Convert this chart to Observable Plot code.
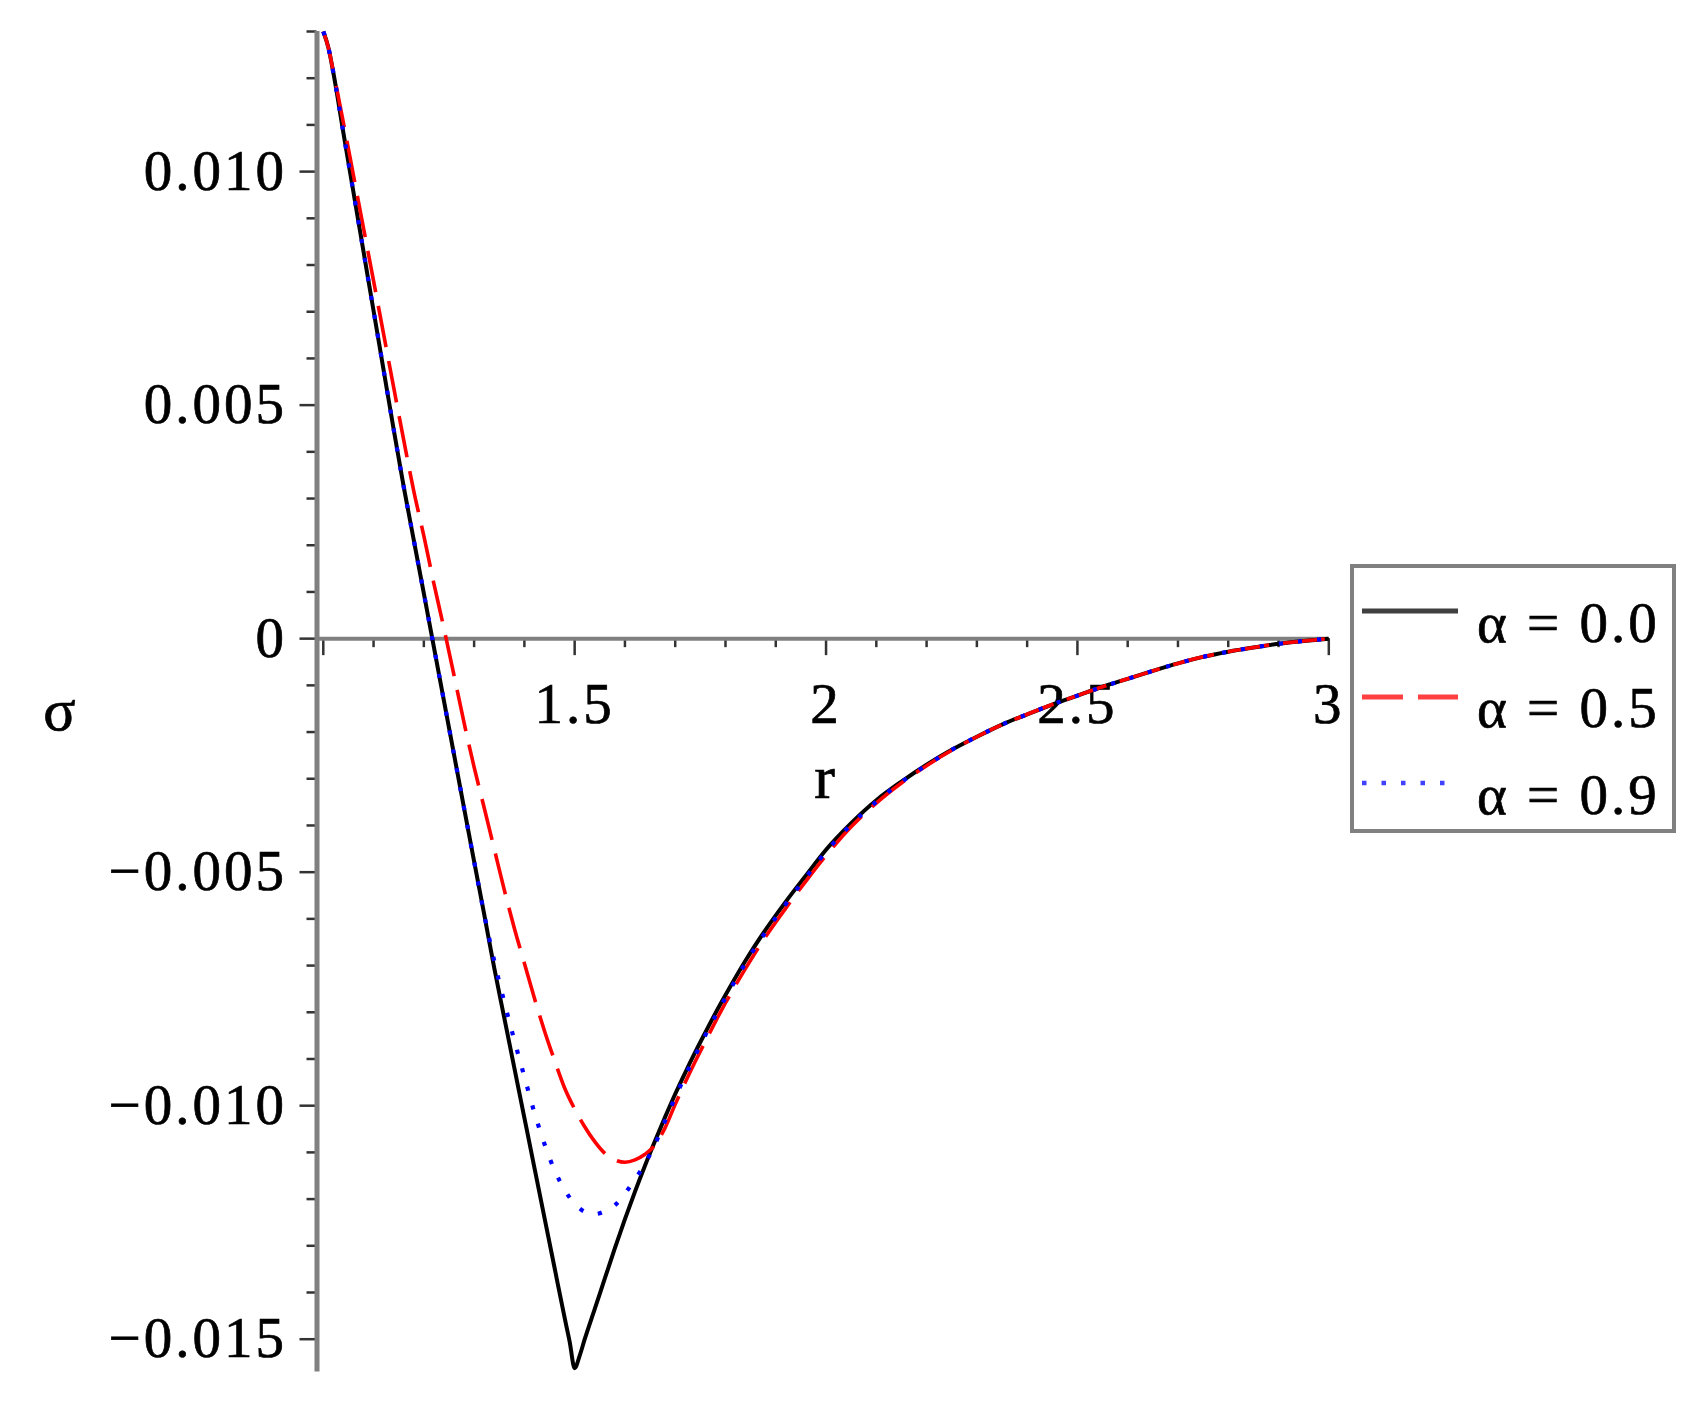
<!DOCTYPE html>
<html>
<head>
<meta charset="utf-8">
<script src="https://cdn.jsdelivr.net/npm/d3@7"></script>
<script src="https://cdn.jsdelivr.net/npm/@observablehq/plot@0.6"></script>
<style>
  html, body { margin: 0; padding: 0; background: #fff; }
  #wrap { position: relative; width: 1699px; height: 1419px; overflow: hidden; }
  #wrap svg text { letter-spacing: 3px; stroke: #000; stroke-width: 0.7px; }
  .legend { position: absolute; left: 1350px; top: 564px; width: 318px; height: 261px;
            border: 4px solid #808080; background: #fff; box-sizing: content-box;
            font-family: "Liberation Serif", serif; font-size: 57px; letter-spacing: 3px; color: #000;
            -webkit-text-stroke: 0.7px #000; }
  .legend .sample { position: absolute; left: 8px; width: 96px; height: 10px; }
  .legend .lab { position: absolute; left: 123px; line-height: 1; white-space: nowrap; transform: translateY(-50%); }
</style>
</head>
<body>
<div id="wrap"></div>
<script>
// ---- data ----
const alpha00 = [
  [1.00,0.01300],[1.01,0.01266],[1.02,0.01212],[1.04,0.01083],[1.06,0.00956],[1.08,0.00829],
  [1.10,0.00702],[1.12,0.00575],[1.14,0.00448],[1.16,0.00325],[1.18,0.00211],[1.20,0.00097],
  [1.22,-0.00018],[1.24,-0.00133],[1.26,-0.00248],[1.28,-0.00363],[1.30,-0.00477],[1.32,-0.00590],
  [1.34,-0.00705],[1.36,-0.00812],[1.38,-0.00919],[1.40,-0.01026],[1.42,-0.01133],[1.44,-0.01240],
  [1.46,-0.01347],[1.48,-0.01454],[1.49,-0.01505],[1.50,-0.01562],[1.51,-0.01535],[1.52,-0.01500],
  [1.54,-0.01435],[1.56,-0.01370],[1.58,-0.01305],[1.60,-0.01243],[1.62,-0.01184],[1.64,-0.01128],
  [1.66,-0.01075],[1.68,-0.01024],[1.70,-0.00975],[1.72,-0.00929],[1.74,-0.00885],[1.76,-0.00843],
  [1.78,-0.00802],[1.80,-0.00763],[1.84,-0.00689],[1.88,-0.00623],[1.92,-0.00563],[1.96,-0.00507],
  [2.00,-0.00452],[2.05,-0.00395],[2.10,-0.00346],[2.15,-0.00306],[2.20,-0.00270],[2.25,-0.00238],
  [2.30,-0.00210],[2.35,-0.00184],[2.40,-0.00162],[2.45,-0.00141],[2.50,-0.00122],[2.55,-0.00103],
  [2.60,-0.00086],[2.65,-0.00069],[2.70,-0.00053],[2.75,-0.00039],[2.80,-0.00028],[2.85,-0.00019],
  [2.90,-0.00011],[2.95,-0.00005],[3.00,0.00000]
];
const alpha05 = [
  [1.00,0.01300],[1.01,0.01266],[1.02,0.01214],[1.04,0.01105],[1.06,0.00992],[1.08,0.00879],
  [1.10,0.00766],[1.12,0.00652],[1.14,0.00538],[1.16,0.00425],[1.18,0.00316],[1.20,0.00220],
  [1.22,0.00118],[1.24,0.00022],[1.26,-0.00078],[1.28,-0.00180],[1.30,-0.00275],[1.32,-0.00362],
  [1.34,-0.00450],[1.36,-0.00538],[1.38,-0.00620],[1.40,-0.00695],[1.42,-0.00770],[1.44,-0.00840],
  [1.46,-0.00903],[1.48,-0.00962],[1.50,-0.01007],[1.52,-0.01045],[1.54,-0.01077],[1.56,-0.01102],
  [1.58,-0.01116],[1.60,-0.01121],[1.62,-0.01116],[1.64,-0.01104],[1.655,-0.01090],[1.68,-0.01047],
  [1.70,-0.00997],[1.72,-0.00950],[1.74,-0.00905],[1.76,-0.00862],[1.78,-0.00820],[1.80,-0.00780],
  [1.84,-0.00706],[1.88,-0.00638],[1.92,-0.00577],[1.96,-0.00519],[2.00,-0.00464],[2.05,-0.00403],
  [2.10,-0.00352],[2.15,-0.00309],[2.20,-0.00272],[2.25,-0.00239],[2.30,-0.00210],[2.35,-0.00184],
  [2.40,-0.00162],[2.45,-0.00141],[2.50,-0.00122],[2.55,-0.00103],[2.60,-0.00086],[2.65,-0.00069],
  [2.70,-0.00053],[2.75,-0.00039],[2.80,-0.00028],[2.85,-0.00019],[2.90,-0.00011],[2.95,-0.00005],
  [3.00,0.00000]
];
const alpha09 = [
  [1.00,0.01300],[1.01,0.01266],[1.02,0.01212],[1.04,0.01083],[1.06,0.00956],[1.08,0.00829],
  [1.10,0.00702],[1.12,0.00575],[1.14,0.00448],[1.16,0.00325],[1.18,0.00211],[1.20,0.00097],
  [1.22,-0.00018],[1.24,-0.00133],[1.26,-0.00248],[1.28,-0.00363],[1.30,-0.00477],[1.32,-0.00590],
  [1.34,-0.00690],[1.36,-0.00778],[1.38,-0.00860],[1.40,-0.00938],[1.42,-0.01015],[1.44,-0.01082],
  [1.46,-0.01138],[1.48,-0.01180],[1.50,-0.01210],[1.52,-0.01227],[1.54,-0.01232],[1.56,-0.01226],
  [1.58,-0.01213],[1.60,-0.01188],[1.62,-0.01158],[1.64,-0.01124],[1.66,-0.01082],[1.68,-0.01032],
  [1.70,-0.00982],[1.72,-0.00936],[1.74,-0.00892],[1.76,-0.00849],[1.78,-0.00808],[1.80,-0.00769],
  [1.84,-0.00694],[1.88,-0.00628],[1.92,-0.00568],[1.96,-0.00511],[2.00,-0.00456],[2.05,-0.00398],
  [2.10,-0.00349],[2.15,-0.00307],[2.20,-0.00271],[2.25,-0.00238],[2.30,-0.00210],[2.35,-0.00184],
  [2.40,-0.00162],[2.45,-0.00141],[2.50,-0.00122],[2.55,-0.00103],[2.60,-0.00086],[2.65,-0.00069],
  [2.70,-0.00053],[2.75,-0.00039],[2.80,-0.00028],[2.85,-0.00019],[2.90,-0.00011],[2.95,-0.00005],
  [3.00,0.00000]
];

const seriesLabels = ["α = 0.0", "α = 0.5", "α = 0.9"];
const xMajorTicks = [1.0, 1.5, 2.0, 2.5, 3.0];
const xLabelTicks = [1.5, 2, 2.5, 3];
const xLabelText = ["1.5", "2", "2.5", "3"];
const yMajorTicks = [-0.015, -0.010, -0.005, 0, 0.005, 0.010];
const yLabelText = ["\u22120.015", "\u22120.010", "\u22120.005", "0", "0.005", "0.010"];
const X_DOMAIN = [0.9875, 3.0];
const Y_DOMAIN = [-0.0157, 0.013];

// ---- styles ----
const lineStyles = [
  {stroke: "#000000", strokeWidth: 4, dash: null, legendStroke: "#404040"},
  {stroke: "#ff0000", strokeWidth: 3.6, dash: "42,14", legendStroke: "#ff4040"},
  {stroke: "#0000ff", strokeWidth: 4.2, dash: "4.2,15", legendStroke: "#4040ff"}
];

const W = 1699, H = 1419;
const mL = 316.5, mR = 370.7, mT = 31, mB = 47.6;
const yPerPx = (Y_DOMAIN[1] - Y_DOMAIN[0]) / (H - mT - mB);

const xMinorTicks = d3.range(10, 31).map(i => i / 10).filter(t => !xMajorTicks.some(m => Math.abs(m - t) < 1e-9));
const yMinorTicks = d3.range(-15, 14).map(i => i / 1000).filter(t => !yMajorTicks.some(m => Math.abs(m - t) < 1e-9));

const series = [alpha00, alpha05, alpha09];

const chart = Plot.plot({
  width: W, height: H,
  marginLeft: mL, marginRight: mR, marginTop: mT, marginBottom: mB,
  x: {domain: X_DOMAIN, axis: null},
  y: {domain: Y_DOMAIN, axis: null},
  style: {fontFamily: "'Liberation Serif', serif", fontSize: "57px", background: "white", color: "black", overflow: "visible"},
  marks: [
    // y axis ticks
    Plot.axisY(yMinorTicks, {anchor: "left", tickSize: 10, tickFormat: () => "", label: null, stroke: "#333", strokeWidth: 2.5}),
    Plot.axisY(yMajorTicks, {anchor: "left", tickSize: 17, tickPadding: 13, label: null, stroke: "#333", strokeWidth: 2.5,
      tickFormat: d => yLabelText[yMajorTicks.findIndex(t => Math.abs(t - d) < 1e-9)], fontSize: 57}),
    // x axis ticks (drawn at sigma = 0)
    Plot.ruleX(xMinorTicks, {x: d => d, y1: () => 0, y2: () => -9 * yPerPx, stroke: "#333", strokeWidth: 2.5}),
    Plot.ruleX(xMajorTicks, {x: d => d, y1: () => 0, y2: () => -17 * yPerPx, stroke: "#333", strokeWidth: 2.5}),
    // axis lines
    Plot.ruleY([0], {stroke: "#808080", strokeWidth: 4}),
    Plot.ruleX([X_DOMAIN[0]], {stroke: "#808080", strokeWidth: 5}),
    // x tick labels
    Plot.text(xLabelTicks, {x: d => d, y: () => 0, dy: 66, text: (d, i) => xLabelText[i], fontSize: 57, lineAnchor: "middle", textAnchor: "middle"}),
    // axis titles
    Plot.text(["r"], {x: () => 2, y: () => 0, dy: 140, text: d => d, fontSize: 62, lineAnchor: "middle"}),
    Plot.text(["σ"], {x: () => X_DOMAIN[0], y: () => 0, dx: -256, dy: 72, text: d => d, fontSize: 60, lineAnchor: "middle"}),
    // curves
    ...series.map((s, i) => Plot.line(s, {
      x: d => d[0], y: d => d[1], curve: "monotone-x",
      stroke: lineStyles[i].stroke, strokeWidth: lineStyles[i].strokeWidth,
      strokeDasharray: lineStyles[i].dash || undefined, strokeLinecap: "butt", strokeLinejoin: "round"
    }))
  ]
});

const wrap = document.getElementById("wrap");
wrap.appendChild(chart);

// ---- legend ----
const legend = document.createElement("div");
legend.className = "legend";
const rowLineY = [43, 129, 215];
const rowTextY = [54, 139, 226];
seriesLabels.forEach((lab, i) => {
  const ns = "http://www.w3.org/2000/svg";
  const svg = document.createElementNS(ns, "svg");
  svg.setAttribute("class", "sample");
  svg.setAttribute("width", "96");
  svg.setAttribute("height", "10");
  svg.style.top = (rowLineY[i] - 5) + "px";
  const ln = document.createElementNS(ns, "line");
  ln.setAttribute("x1", "0"); ln.setAttribute("x2", "96");
  ln.setAttribute("y1", "5"); ln.setAttribute("y2", "5");
  ln.setAttribute("stroke", lineStyles[i].legendStroke);
  ln.setAttribute("stroke-width", i === 2 ? "4.5" : "5");
  if (i === 1) ln.setAttribute("stroke-dasharray", "41,15");
  if (i === 2) ln.setAttribute("stroke-dasharray", "4.5,15");
  svg.appendChild(ln);
  legend.appendChild(svg);
  const t = document.createElement("div");
  t.className = "lab";
  t.style.top = rowTextY[i] + "px";
  t.textContent = lab;
  legend.appendChild(t);
});
wrap.appendChild(legend);
</script>
</body>
</html>
